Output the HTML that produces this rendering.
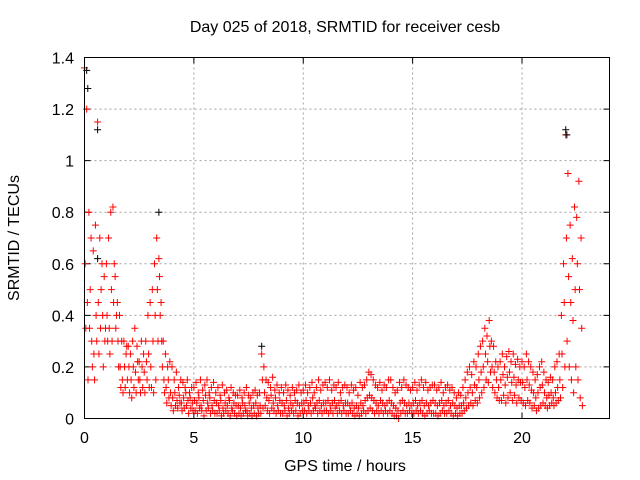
<!DOCTYPE html>
<html><head><meta charset="utf-8">
<style>
html,body{margin:0;padding:0;background:#fff;}
svg{display:block;font-family:"Liberation Sans",Arial,sans-serif;}
</style></head>
<body>
<svg id="chart" width="640" height="480" viewBox="0 0 640 480">
<text x="345" y="32" font-size="16" text-anchor="middle">Day 025 of 2018, SRMTID for receiver cesb</text>
<text x="345" y="471" font-size="16" text-anchor="middle">GPS time / hours</text>
<text transform="translate(19,238) rotate(-90)" font-size="16" text-anchor="middle">SRMTID / TECUs</text>
<g id="grid"></g><g id="ticks"></g><g id="marks"></g>
<rect x="84.5" y="57.5" width="525" height="361" fill="none" stroke="#000" stroke-width="1"/>
</svg>
<script>
const xTicks=[0,5,10,15,20];
const yTicks=[0,0.2,0.4,0.6,0.8,1,1.2,1.4];
const yTickLabels=["0","0.2","0.4","0.6","0.8","1","1.2","1.4"];
const times=[0,0.1,0.2,0.3,0.4,0.5,0.6,0.7,0.8,0.9,1,1.1,1.2,1.3,1.4,1.5,1.6,1.7,1.8,1.9,2,2.1,2.2,2.3,2.4,2.5,2.6,2.7,2.8,2.9,3,3.1,3.2,3.3,3.4,3.5,3.6,3.7,3.8,3.9,4,4.1,4.2,4.3,4.4,4.5,4.6,4.7,4.8,4.9,5,5.1,5.2,5.3,5.4,5.5,5.6,5.7,5.8,5.9,6,6.1,6.2,6.3,6.4,6.5,6.6,6.7,6.8,6.9,7,7.1,7.2,7.3,7.4,7.5,7.6,7.7,7.8,7.9,8,8.1,8.2,8.3,8.4,8.5,8.6,8.7,8.8,8.9,9,9.1,9.2,9.3,9.4,9.5,9.6,9.7,9.8,9.9,10,10.1,10.2,10.3,10.4,10.5,10.6,10.7,10.8,10.9,11,11.1,11.2,11.3,11.4,11.5,11.6,11.7,11.8,11.9,12,12.1,12.2,12.3,12.4,12.5,12.6,12.7,12.8,12.9,13,13.1,13.2,13.3,13.4,13.5,13.6,13.7,13.8,13.9,14,14.1,14.2,14.3,14.4,14.5,14.6,14.7,14.8,14.9,15,15.1,15.2,15.3,15.4,15.5,15.6,15.7,15.8,15.9,16,16.1,16.2,16.3,16.4,16.5,16.6,16.7,16.8,16.9,17,17.1,17.2,17.3,17.4,17.5,17.6,17.7,17.8,17.9,18,18.1,18.2,18.3,18.4,18.5,18.6,18.7,18.8,18.9,19,19.1,19.2,19.3,19.4,19.5,19.6,19.7,19.8,19.9,20,20.1,20.2,20.3,20.4,20.5,20.6,20.7,20.8,20.9,21,21.1,21.2,21.3,21.4,21.5,21.6,21.7,21.8,21.9,22,22.1,22.2,22.3,22.4,22.5,22.6,22.7];
const seriesA=[1.36,1.2,0.8,0.7,0.65,0.75,1.15,0.7,0.6,0.55,
0.6,0.7,0.8,0.82,0.55,0.45,0.4,0.3,0.3,0.25,
0.28,0.25,0.3,0.35,0.28,0.22,0.3,0.25,0.3,0.4,
0.45,0.5,0.6,0.7,0.62,0.45,0.3,0.25,0.2,0.22,
0.2,0.15,0.18,0.12,0.15,0.14,0.12,0.15,0.1,0.12,
0.12,0.14,0.1,0.15,0.11,0.13,0.15,0.1,0.12,0.14,
0.1,0.12,0.09,0.13,0.1,0.11,0.08,0.12,0.1,0.09,
0.09,0.11,0.08,0.1,0.12,0.09,0.08,0.1,0.11,0.09,
0.1,0.25,0.2,0.15,0.14,0.12,0.16,0.11,0.13,0.1,
0.12,0.1,0.13,0.11,0.09,0.12,0.1,0.11,0.13,0.1,
0.11,0.13,0.1,0.12,0.14,0.1,0.12,0.15,0.11,0.13,
0.14,0.12,0.15,0.11,0.13,0.12,0.14,0.1,0.12,0.13,
0.12,0.1,0.13,0.11,0.12,0.09,0.14,0.12,0.13,0.15,
0.18,0.17,0.15,0.13,0.12,0.14,0.11,0.13,0.12,0.15,
0.15,0.12,0.1,0.11,0.14,0.12,0.15,0.13,0.12,0.11,
0.12,0.14,0.11,0.13,0.15,0.12,0.14,0.11,0.12,0.13,
0.13,0.11,0.12,0.14,0.1,0.12,0.13,0.11,0.12,0.1,
0.08,0.1,0.09,0.12,0.15,0.18,0.2,0.17,0.22,0.2,
0.25,0.28,0.3,0.35,0.32,0.38,0.3,0.28,0.22,0.2,
0.22,0.25,0.2,0.24,0.26,0.22,0.25,0.21,0.23,0.2,
0.22,0.2,0.25,0.22,0.2,0.18,0.15,0.17,0.2,0.22,
0.18,0.15,0.14,0.16,0.15,0.2,0.22,0.25,0.4,0.6,
1.1,0.95,0.75,0.62,0.82,0.78,0.92,0.7];
const seriesB=[0.6,0.45,0.35,0.3,0.25,0.4,0.45,0.35,0.4,0.3,
0.4,0.35,0.5,0.45,0.35,0.3,0.2,0.15,0.2,0.28,
0.2,0.15,0.2,0.18,0.22,0.15,0.2,0.18,0.22,0.25,
0.2,0.3,0.4,0.5,0.55,0.3,0.15,0.12,0.15,0.1,
0.08,0.1,0.07,0.09,0.06,0.08,0.1,0.07,0.08,0.06,
0.07,0.06,0.08,0.05,0.07,0.09,0.06,0.08,0.05,0.07,
0.06,0.05,0.07,0.04,0.06,0.05,0.07,0.04,0.06,0.05,
0.05,0.04,0.06,0.05,0.03,0.06,0.04,0.05,0.06,0.04,
0.05,0.15,0.1,0.08,0.07,0.09,0.06,0.08,0.05,0.07,
0.06,0.05,0.07,0.04,0.06,0.05,0.07,0.06,0.05,0.06,
0.06,0.07,0.05,0.06,0.08,0.05,0.06,0.07,0.05,0.06,
0.06,0.07,0.05,0.06,0.07,0.05,0.06,0.07,0.05,0.06,
0.06,0.05,0.06,0.04,0.05,0.04,0.06,0.05,0.07,0.08,
0.09,0.08,0.07,0.06,0.05,0.07,0.06,0.05,0.06,0.07,
0.06,0.05,0.04,0.03,0.06,0.07,0.06,0.05,0.06,0.05,
0.06,0.07,0.05,0.06,0.07,0.05,0.06,0.05,0.06,0.07,
0.06,0.05,0.06,0.07,0.05,0.06,0.07,0.05,0.06,0.05,
0.04,0.05,0.05,0.06,0.08,0.1,0.12,0.1,0.13,0.12,
0.15,0.18,0.2,0.25,0.22,0.28,0.2,0.18,0.15,0.12,
0.15,0.17,0.13,0.16,0.18,0.14,0.16,0.13,0.15,0.14,
0.14,0.12,0.15,0.13,0.11,0.1,0.08,0.1,0.12,0.13,
0.1,0.08,0.09,0.1,0.08,0.1,0.12,0.15,0.25,0.45,
0.7,0.55,0.45,0.38,0.5,0.6,0.5,0.35];
const seriesC=[0.35,0.15,0.5,0.2,0.15,0.3,0.25,0.5,0.2,0.35,
0.3,0.25,0.3,0.6,0.4,0.2,0.12,0.1,0.12,0.15,
0.1,0.08,0.12,0.1,0.15,0.1,0.12,0.1,0.15,0.12,
0.12,0.1,0.15,0.3,0.4,0.2,0.1,0.06,0.08,0.05,
0.03,0.05,0.04,0.06,0.03,0.04,0.05,0.02,0.04,0.03,
0.03,0.02,0.04,0.03,0.01,0.03,0.04,0.02,0.03,0.02,
0.02,0.03,0.01,0.02,0.03,0.02,0.01,0.03,0.02,0.01,
0.02,0.01,0.02,0.03,0.01,0.02,0.01,0.02,0.01,0.02,
0.02,0.04,0.05,0.03,0.02,0.04,0.03,0.02,0.03,0.02,
0.02,0.03,0.01,0.02,0.03,0.02,0.03,0.01,0.02,0.03,
0.03,0.02,0.03,0.02,0.03,0.04,0.02,0.03,0.02,0.03,
0.03,0.02,0.03,0.02,0.04,0.02,0.03,0.02,0.03,0.02,
0.02,0.03,0.02,0.01,0.02,0.01,0.02,0.03,0.02,0.03,
0.04,0.03,0.02,0.03,0.02,0.03,0.02,0.03,0.02,0.03,
0.02,0.01,0.01,0.0,0.02,0.03,0.02,0.02,0.03,0.02,
0.02,0.03,0.02,0.03,0.02,0.01,0.02,0.03,0.02,0.02,
0.02,0.01,0.02,0.03,0.02,0.02,0.03,0.02,0.01,0.02,
0.01,0.02,0.02,0.03,0.04,0.05,0.06,0.05,0.07,0.06,
0.08,0.1,0.12,0.15,0.14,0.18,0.12,0.1,0.08,0.07,
0.07,0.09,0.06,0.08,0.1,0.07,0.09,0.06,0.08,0.07,
0.06,0.05,0.07,0.06,0.04,0.05,0.03,0.04,0.05,0.06,
0.05,0.04,0.05,0.06,0.05,0.06,0.07,0.08,0.12,0.2,
0.3,0.2,0.15,0.1,0.2,0.15,0.08,0.05];
const blackTimes=[0.1,0.15,0.6,0.6,3.4,8.1,22.0,22.05];
const blackValues=[1.35,1.28,1.12,0.62,0.8,0.28,1.12,1.1];

const X0=84.5,X1=609.5,Y0=418.5,Y1=57.5,XMAX=24,YMAX=1.4;
function xs(v){return X0+(v/XMAX)*(X1-X0);}
function ys(v){return Y0-(v/YMAX)*(Y0-Y1);}
const NS="http://www.w3.org/2000/svg";
function mk(tag,attrs,parent){const e=document.createElementNS(NS,tag);for(const k in attrs)e.setAttribute(k,attrs[k]);parent.appendChild(e);return e;}
const grid=document.getElementById('grid'),ticks=document.getElementById('ticks'),marks=document.getElementById('marks');

xTicks.forEach(function(t){
  const x=xs(t);
  if(t>0){const g=mk('line',{x1:x,x2:x,y1:Y1,y2:Y0,stroke:'#a0a0a0','stroke-dasharray':'2,3'},grid);
  
  }
  const tk=mk('path',{d:'M'+x+' '+Y0+'v-6M'+x+' '+Y1+'v6',stroke:'#000'},ticks);
  
  
  const l=mk('text',{x:x,y:443,'font-size':16,'text-anchor':'middle'},ticks);
  l.textContent=String(t);
  
  
});
yTicks.forEach(function(t,i){
  const y=ys(t);
  if(t>0&&t<YMAX){const g=mk('line',{x1:X0,x2:X1,y1:y,y2:y,stroke:'#a0a0a0','stroke-dasharray':'2,3'},grid);
  
  }
  const tk=mk('path',{d:'M'+X0+' '+y+'h6M'+X1+' '+y+'h-6',stroke:'#000'},ticks);
  
  
  const l=mk('text',{x:74,y:y+6,'font-size':16,'text-anchor':'end'},ticks);
  l.textContent=yTickLabels[i];
  
  
});
function plus(t,v,color,name){
  const x=xs(t),y=ys(v);
  const p=mk('path',{d:'M'+(x-3.5)+' '+y+'h7M'+x+' '+(y-3.5)+'v7',stroke:color,'stroke-width':1,fill:'none'},marks);
  
  
}
times.forEach(function(t,i){
  if(seriesA[i]!=null)plus(t,seriesA[i],'#ff0000','point-a');
  if(seriesB[i]!=null)plus(t+0.03,seriesB[i],'#ff0000','point-b');
  if(seriesC[i]!=null)plus(t+0.06,seriesC[i],'#ff0000','point-c');
});
blackTimes.forEach(function(t,i){plus(t,blackValues[i],'#000000','point-black');});
</script>
</body></html>
